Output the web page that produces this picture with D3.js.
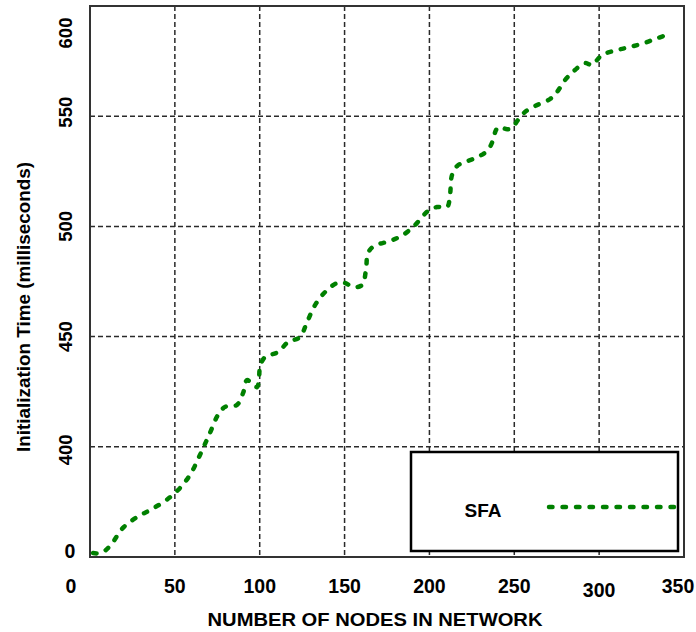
<!DOCTYPE html>
<html>
<head>
<meta charset="utf-8">
<script src="https://cdn.jsdelivr.net/npm/d3@7"></script>
<style>
  html, body { margin: 0; padding: 0; background: #fff; }
  svg { display: block; font-family: "Liberation Sans", Arial, sans-serif; font-weight: bold; }
</style>
</head>
<body>
<svg id="chart" width="696" height="632"></svg>
<script>
// SFA initialization time vs. network size
const nodes = [1.8, 6.5, 11.8, 19.4, 27.7, 35.4, 44.2, 51.9, 58.9, 64.8, 70.7, 75.4, 79.6, 86.6,
  90.2, 92.5, 95.5, 98.4, 99.6, 100.2, 103.1, 110.8, 116.7, 123.7, 127.9, 132.6, 138.5, 145.6,
  150.3, 155.0, 160.3, 162.6, 163.8, 167.4, 176.8, 184.4, 191.5, 199.2, 204.5, 210.4, 212.1,
  213.3, 216.3, 221.0, 228.6, 234.5, 237.5, 239.2, 241.0, 245.1, 247.5, 249.3, 252.2, 256.3,
  262.2, 271.1, 275.2, 279.9, 285.8, 291.7, 295.8, 298.8, 301.7, 310.5, 318.2, 326.5, 334.7, 343.0];
const initTime = [351.8, 351.8, 355.0, 363.2, 368.1, 371.3, 375.4, 380.4, 387.2, 396.3, 406.3, 414.4, 418.1, 419.0,
  424.4, 430.3, 428.5, 427.1, 431.7, 436.2, 440.7, 443.0, 447.5, 449.8, 456.6, 464.3, 470.2, 474.3,
  474.3, 472.5, 473.4, 480.2, 487.9, 491.1, 493.4, 496.1, 500.6, 507.0, 508.8, 508.8, 514.2,
  523.3, 527.4, 529.2, 531.5, 534.7, 539.2, 543.7, 545.1, 544.2, 544.2, 545.1, 548.3, 551.9,
  554.6, 557.8, 561.0, 566.4, 571.0, 574.1, 573.2, 575.5, 577.8, 580.0, 581.4, 583.2, 585.5, 587.7];

const xTicks = [0, 50, 100, 150, 200, 250, 300, 350];
const xTickLabels = ["0", "50", "100", "150", "200", "250", "300", "350"];
const yTicks = [350, 400, 450, 500, 550, 600];
const yTickLabels = ["0", "400", "450", "500", "550", "600"];
const seriesName = "SFA";

const svg = d3.select("#chart");
const plotL = 90, plotR = 684, plotT = 6, plotB = 557;

const x = d3.scaleLinear().domain([0, 350]).range([plotL, plotR]);
const y = d3.scaleLinear().domain([350, 600]).range([plotB, plotT]);

const gridStyle = g => g.attr("stroke", "#2a2a2a").attr("stroke-width", 1.5).attr("stroke-dasharray", "5,3");

// grid
svg.append("g").call(gridStyle)
  .selectAll("line").data(xTicks.slice(1, -1)).join("line")
  .attr("x1", d => x(d)).attr("x2", d => x(d)).attr("y1", plotT).attr("y2", plotB);
svg.append("g").call(gridStyle)
  .selectAll("line").data(yTicks.slice(1, -1)).join("line")
  .attr("x1", plotL).attr("x2", plotR).attr("y1", d => y(d)).attr("y2", d => y(d));

// frame
svg.append("rect").attr("x", plotL).attr("y", plotT).attr("width", plotR - plotL).attr("height", plotB - plotT)
  .attr("fill", "none").attr("stroke", "#333").attr("stroke-width", 2);

// series
const pts = nodes.map((n, i) => [n, initTime[i]]);
const line = d3.line().x(d => x(d[0])).y(d => y(d[1])).curve(d3.curveCatmullRom.alpha(0.5));
const dashStyle = p => p.attr("fill", "none").attr("stroke", "#008000").attr("stroke-width", 4.5)
  .attr("stroke-linecap", "round").attr("stroke-dasharray", "3.5,10");
svg.append("path").datum(pts).attr("d", line).call(dashStyle);

// x tick labels
const xOff = { 0: [-19, 0], 300: [0, 4], 350: [-6, 0] };
svg.append("g").selectAll("text").data(xTicks).join("text")
  .attr("x", d => x(d) + (xOff[d] ? xOff[d][0] : 0))
  .attr("y", d => 593 + (xOff[d] ? xOff[d][1] : 0))
  .attr("text-anchor", "middle").attr("font-size", 19.5).attr("fill", "#000")
  .text((d, i) => xTickLabels[i]);

// y tick labels: bottom one horizontal, others rotated
svg.append("text").attr("x", 70).attr("y", y(350) + 1).attr("text-anchor", "middle")
  .attr("font-size", 19.5).attr("fill", "#000").text(yTickLabels[0]);
const yOff = { 400: 3, 450: 0, 500: 0, 550: -4, 600: 27 };
svg.append("g").selectAll("text").data(yTicks.slice(1)).join("text")
  .attr("transform", d => `translate(72,${y(d) + yOff[d]}) rotate(-90)`)
  .attr("text-anchor", "middle").attr("font-size", 18.5).attr("fill", "#000")
  .text((d, i) => yTickLabels[i + 1]);

// axis titles
svg.append("text").attr("x", 375).attr("y", 626).attr("text-anchor", "middle")
  .attr("font-size", 18).attr("fill", "#000")
  .attr("textLength", 335).attr("lengthAdjust", "spacingAndGlyphs")
  .text("NUMBER OF NODES IN NETWORK");
svg.append("text").attr("transform", "translate(30,307) rotate(-90)").attr("text-anchor", "middle")
  .attr("font-size", 17.5).attr("fill", "#000")
  .attr("textLength", 290).attr("lengthAdjust", "spacingAndGlyphs")
  .text("Initialization Time (milliseconds)");

// legend
const lg = svg.append("g");
lg.append("rect").attr("x", 411).attr("y", 452).attr("width", 267).attr("height", 99)
  .attr("fill", "#fff").attr("stroke", "#000").attr("stroke-width", 2.5);
lg.append("text").attr("x", 483).attr("y", 517).attr("text-anchor", "middle")
  .attr("font-size", 19).attr("fill", "#000").text(seriesName);
lg.append("line").attr("x1", 549).attr("x2", 674).attr("y1", 507).attr("y2", 507).call(dashStyle);
</script>
</body>
</html>
